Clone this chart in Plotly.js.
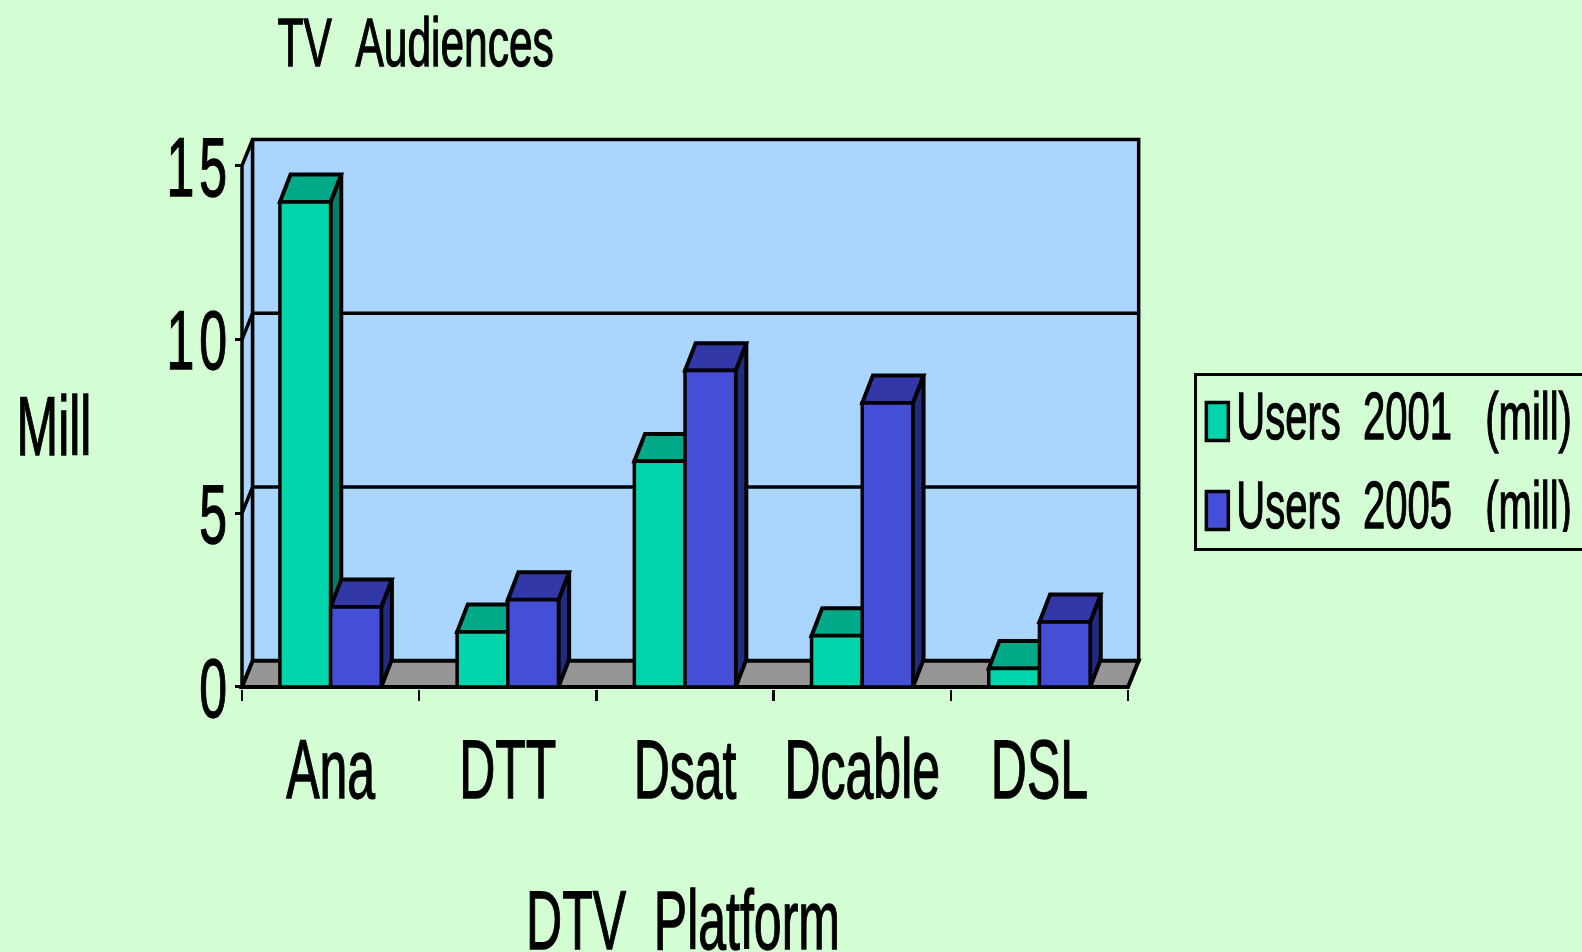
<!DOCTYPE html>
<html>
<head>
<meta charset="utf-8">
<script src="https://cdn.plot.ly/plotly-3.0.1.min.js"></script>
<style>html,body{margin:0;padding:0;background:#d4fed4;overflow:hidden}</style>
</head>
<body>
<div id="chart" style="width:1582px;height:952px"></div>
<script>
const categories = ['Ana', 'DTT', 'Dsat', 'Dcable', 'DSL'];
const users2001 = [13.95, 1.58, 6.49, 1.47, 0.53];
const users2005 = [2.3, 2.51, 9.1, 8.17, 1.87];
const yTicks = [0, 5, 10, 15];
const FONT = '"Liberation Sans Narrow", "Liberation Sans", sans-serif';
const BAR = 0.286, DX = 0.06, DY_WALL = 0.75, DY_BAR = 0.79;
const centers = categories.map((_, i) => i + 0.5);
const faces = [
  {vals: users2001, name: 'Users\u00a0\u00a02001\u00a0\u00a0\u00a0(mill)', front: '#00d4aa', top: '#00aa88', side: '#007f66', off: -BAR},
  {vals: users2005, name: 'Users\u00a0\u00a02005\u00a0\u00a0\u00a0(mill)', front: '#444ed6', top: '#3338a8', side: '#222b80', off: 0}
];
const poly = pts => 'M' + pts.map(p => p.join(' ')).join(' L') + ' Z';
const N = categories.length;
const lw = {color: '#000', width: 4};
const wl = {color: '#000', width: 3.5};
const shapes = [];
// walls + floor
shapes.push({type: 'path', layer: 'below', path: poly([[0,0],[DX,DY_WALL],[DX,15.75],[0,15]]), fillcolor: '#a9d5ff', line: wl});
shapes.push({type: 'path', layer: 'below', path: poly([[DX,DY_WALL],[N+DX,DY_WALL],[N+DX,15.75],[DX,15.75]]), fillcolor: '#a9d5ff', line: wl});
yTicks.slice(1, 3).forEach(t => {
  shapes.push({type:'path', layer:'below', path:`M0 ${t} L${DX} ${t+DY_WALL} L${N+DX} ${t+DY_WALL}`, line: wl});
});
shapes.push({type:'path', layer:'below', path: poly([[0,0],[N,0],[N+DX,DY_WALL],[DX,DY_WALL]]), fillcolor:'#969696', line: lw});
// side + top faces of the bars
faces.forEach(f => {
  f.vals.forEach((v, i) => {
    const x0 = centers[i] + f.off, x1 = x0 + BAR;
    shapes.push({type:'path', layer:'below', fillcolor:f.side, line:lw,
      path: poly([[x1,0],[x1+DX,DY_BAR],[x1+DX,v+DY_BAR],[x1,v]])});
    shapes.push({type:'path', layer:'below', fillcolor:f.top, line:lw,
      path: poly([[x0,v],[x1,v],[x1+DX,v+DY_BAR],[x0+DX,v+DY_BAR]])});
  });
});
const traces = faces.map((f, k) => ({
  type: 'bar', name: f.name, x: centers, y: f.vals, legendgroup: 'g' + k, width: BAR,
  offset: f.off,
  marker: {color: f.front, line: {color: '#000', width: 3.5}}, hoverinfo: 'skip'
}));
const layout = {
  width: 1582, height: 952, autosize: false,
  paper_bgcolor: '#d4fed4', plot_bgcolor: 'rgba(0,0,0,0)',
  margin: {l: 235, r: 437.7, t: 135.7, b: 263.2, pad: 0, autoexpand: false},
  barmode: 'overlay',
  font: {family: FONT, color: '#000', size: 50},
  title: {text: 'TV\u00a0\u00a0Audiences', font: {family: FONT, size: 42.5, color: '#000'}, x: 0.2, y: 0.95, xanchor: 'center'},
  xaxis: {
    range: [-0.0395, 5.09], showgrid: false, zeroline: false, showline: false,
    tickmode: 'array', tickvals: centers, ticktext: categories, ticks: '', ticklen: 0,
    tickfont: {family: FONT, size: 50, color: '#000'},
    minor: {tickmode: 'array', tickvals: [0,1,2,3,4,5], ticks: 'outside', ticklen: 11, tickwidth: 2.5, tickcolor: '#000', showgrid: false},
    title: {text: 'DTV\u00a0\u00a0Platform', font: {family: FONT, size: 50, color: '#000'}}
  },
  yaxis: {
    range: [-0.06, 15.85], showgrid: false, zeroline: false, showline: false,
    tickmode: 'array', tickvals: yTicks, ticks: 'inside', ticklen: 7, tickwidth: 3, tickcolor: '#000',
    tickfont: {family: FONT, size: 50, color: '#000'},
    title: {text: 'Mill', font: {family: FONT, size: 50, color: '#000'}}
  },
  legend: {
    x: 1.0554, xanchor: 'left', y: 0.5715, yanchor: 'top', traceorder: 'grouped', tracegroupgap: 36,
    bgcolor: 'rgba(0,0,0,0)', bordercolor: '#000', borderwidth: 3,
    font: {family: FONT, size: 40, color: '#000'}
  },
  shapes: shapes
};
const gd = document.getElementById('chart');
function fit(el, sy, target) {
  const existing = target && target.drop ? '' : (el.getAttribute('transform') || '');
  const b = el.getBBox();
  const cx = b.x + b.width / 2, cy = b.y + b.height / 2;
  const tf = `${existing} translate(${cx},${cy}) scale(1,${sy}) translate(${-cx},${-cy})`;
  el.setAttribute('transform', tf);
  el.style.stroke = '#000';
  el.style.strokeWidth = '0.8px';
  if (target) {
    const r = el.getBoundingClientRect();
    const dx = target.cx === undefined ? (target.dx || 0) : target.cx - (r.left + r.right) / 2;
    const dy = target.cy === undefined ? (target.dy || 0) : target.cy - (r.top + r.bottom) / 2;
    el.setAttribute('transform', `translate(${dx},${dy}) ${tf}`);
  }
}
Plotly.newPlot(gd, traces, layout, {displayModeBar: false, staticPlot: true}).then(() => {
  const S = 1.68;
  gd.querySelectorAll('.xtick text').forEach(t => fit(t, S, {dy: 46}));
  gd.querySelectorAll('.ytick text').forEach(t => { t.style.letterSpacing = '5px'; fit(t, S, {dx: -2, dy: 1}); });
  const gt = gd.querySelector('.g-gtitle text'); if (gt) fit(gt, 1.6, {drop: true, cx: 415.7, cy: 43});
  const xt = gd.querySelector('.g-xtitle text'); if (xt) fit(xt, S, {drop: true, cx: 683, cy: 920});
  const yt = gd.querySelector('.g-ytitle text'); if (yt) fit(yt, S, {drop: true, cx: 54, cy: 426});
  gd.querySelectorAll('.legend .legendtext').forEach((t, i) => fit(t, S, {dx: -1, dy: i ? 3 : 5}));
  gd.querySelectorAll('.legend .legendpoints path').forEach((p, i) => p.setAttribute('d', i ? 'M11,30H-11V-8H11Z' : 'M11,32H-11V-6H11Z'));
  const bg = gd.querySelector('.legend .bg');
  if (bg) { bg.setAttribute('height', 175); bg.setAttribute('width', 392); }
});
</script>
</body>
</html>
